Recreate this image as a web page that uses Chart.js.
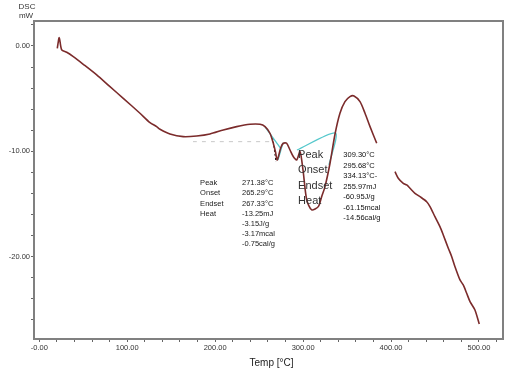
<!DOCTYPE html>
<html>
<head>
<meta charset="utf-8">
<script src="https://cdn.jsdelivr.net/npm/chart.js@4"></script>
<style>
  html, body { margin: 0; padding: 0; background: #fff; }
  #wrap { width: 522px; height: 375px; position: relative; }
</style>
</head>
<body>
<div id="wrap"><canvas id="dsc"></canvas></div>
<script>
// --- DSC curve (temperature in °C, heat flow in mW) ---
const tempMain = [20.5, 22.7, 25.5, 31.2, 38.7, 50.0, 65.3, 80.4, 95.5, 114.5, 125.9, 133.5, 137.3, 148.6,
  163.7, 179.0, 194.1, 209.2, 224.5, 239.6, 251.0, 256.7, 262.3, 266.1, 268.6, 270.6, 274.5, 277.5, 281.3,
  285.1, 288.8, 292.7, 296.5, 299.9, 304.1, 309.8, 317.3, 321.1, 324.9, 330.6, 336.3, 341.9, 347.6, 353.3,
  357.9, 364.7, 370.4, 376.1, 383.7];
const dscMain = [-0.22, 0.79, -0.38, -0.60, -1.02, -1.74, -2.75, -3.87, -4.97, -6.39, -7.28, -7.66, -7.91, -8.36,
  -8.61, -8.55, -8.36, -7.98, -7.66, -7.44, -7.44, -7.66, -8.29, -9.24, -10.07, -10.83, -9.69, -9.24, -9.24,
  -9.88, -10.50, -10.83, -10.04, -11.78, -14.62, -15.57, -15.26, -14.31, -13.36, -11.14, -8.36, -6.39, -5.29, -4.81,
  -4.75, -5.29, -6.39, -7.66, -9.24];

const tempTail = [404.5, 408.2, 413.9, 417.8, 421.5, 427.2, 432.9, 440.5, 444.3, 449.9, 455.6, 459.4, 465.1,
  469.0, 472.7, 478.4, 482.1, 486.0, 489.8, 495.4, 500.3];
const dscTail = [-11.94, -12.56, -13.04, -13.20, -13.51, -13.99, -14.31, -14.79, -15.26, -16.21, -17.16, -17.95,
  -19.21, -20.01, -20.96, -22.22, -22.70, -23.49, -24.28, -25.07, -26.40];

// integration baselines drawn by the instrument software
const base1Temp = [256.7, 274.9];
const base1Dsc = [-7.69, -9.78];
const base2Temp = [271.4, 277.1];
const base2Dsc = [-10.83, -9.21];
const base3Temp = [293.0, 336.8, 329.4];
const base3Dsc = [-9.88, -8.26, -11.30];
const peakMarkTemp = [265.6, 269.1];
const peakMarkDsc = [-8.74, -11.02];
const guideTemp = [174.8, 264.7];
const guideDsc = [-9.09, -9.09];

// axis ticks
const xMajor = [0, 100, 200, 300, 400, 500];
const yMajor = [0, -10, -20];

// annotation texts
const smallPeakLabels = ['Peak', 'Onset', 'Endset', 'Heat'];
const smallPeakValues = ['271.38°C', '265.29°C', '267.33°C', '-13.25mJ', '-3.15J/g', '-3.17mcal', '-0.75cal/g'];
const bigPeakLabels = ['Peak', 'Onset', 'Endset', 'Heat'];
const bigPeakValues = ['309.30°C', '295.68°C', '334.13°C-', '255.97mJ', '-60.95J/g', '-61.15mcal', '-14.56cal/g'];

const toPoints = (xs, ys) => xs.map((x, i) => ({ x: x, y: ys[i] }));

const BROWN = '#7b2b2b';
const CYAN = '#55c8cc';

function lineSet(xs, ys, color, width, dash) {
    return {
        data: toPoints(xs, ys),
        showLine: true,
        borderColor: color,
        borderWidth: width,
        borderDash: dash || [],
        pointRadius: 0,
        fill: false
    };
}

// draws frame, axis titles and the result tables
const decorations = {
    id: 'decorations',
    afterDraw(chart) {
        const ctx = chart.ctx;
        const a = chart.chartArea;
        const xs = chart.scales.x, ys = chart.scales.y;
        ctx.save();

        // frame
        ctx.strokeStyle = '#808080';
        ctx.lineWidth = 2;
        ctx.strokeRect(a.left, a.top, a.right - a.left, a.bottom - a.top);

        // axis titles
        ctx.fillStyle = '#333';
        ctx.textAlign = 'center';
        ctx.textBaseline = 'middle';
        ctx.font = '8px "Liberation Sans", Arial, sans-serif';
        ctx.fillText('DSC', a.left - 7, a.top - 14);
        ctx.fillText('mW', a.left - 8, a.top - 5);
        ctx.font = '10px "Liberation Sans", Arial, sans-serif';
        ctx.fillStyle = '#222';
        ctx.fillText('Temp [°C]', (a.left + a.right) / 2 + 3, a.bottom + 24);

        // small peak table
        ctx.textAlign = 'left';
        ctx.font = '7.5px "Liberation Sans", Arial, sans-serif';
        ctx.fillStyle = '#222';
        let lx = xs.getPixelForValue(182.9), vx = xs.getPixelForValue(230.5), ty = ys.getPixelForValue(-13.04);
        smallPeakLabels.forEach((t, i) => ctx.fillText(t, lx, ty + i * 10.1));
        smallPeakValues.forEach((t, i) => ctx.fillText(t, vx, ty + i * 10.1));

        // big peak table
        ctx.font = '11px "Liberation Sans", Arial, sans-serif';
        ctx.fillStyle = '#333';
        lx = xs.getPixelForValue(294.3);
        ty = ys.getPixelForValue(-10.35);
        bigPeakLabels.forEach((t, i) => ctx.fillText(t, lx, ty + i * 15.5));
        ctx.font = '7.5px "Liberation Sans", Arial, sans-serif';
        ctx.fillStyle = '#111';
        vx = xs.getPixelForValue(345.7);
        bigPeakValues.forEach((t, i) => ctx.fillText(t, vx, ty + i * 10.5));

        ctx.restore();
    }
};

const chart = new Chart(document.getElementById('dsc'), {
    type: 'scatter',
    data: {
        datasets: [
            lineSet(guideTemp, guideDsc, '#c8c8c8', 1, [4, 5]),
            lineSet(tempMain, dscMain, BROWN, 1.6),
            lineSet(tempTail, dscTail, BROWN, 1.6),
            lineSet(base1Temp, base1Dsc, CYAN, 1.3),
            lineSet(base2Temp, base2Dsc, CYAN, 1.3),
            lineSet(base3Temp, base3Dsc, CYAN, 1.3),
            lineSet(peakMarkTemp, peakMarkDsc, '#111', 1, [2, 2])
        ]
    },
    options: {
        responsive: true,
        maintainAspectRatio: false,
        animation: false,
        layout: { padding: { left: 0, top: 21, right: 19, bottom: 0 } },
        plugins: { legend: { display: false }, tooltip: { enabled: false } },
        elements: { line: { tension: 0.25 } },
        scales: {
            x: {
                type: 'linear',
                min: -6,
                max: 527.3,
                afterFit(s) { s.height = 36; },
                afterBuildTicks(s) { s.ticks = s.ticks.filter(t => t.value % 20 === 0); },
                grid: { drawOnChartArea: false, tickLength: 3, color: '#666' },
                border: { color: '#808080', width: 2 },
                ticks: {
                    stepSize: 20,
                    includeBounds: false,
                    padding: 1,
                    maxRotation: 0,
                    autoSkip: false,
                    color: '#333',
                    font: { size: 7.5, family: '"Liberation Sans", Arial, sans-serif' },
                    callback: v => xMajor.includes(v) ? (v === 0 ? '-0.00' : v.toFixed(2)) : ''
                }
            },
            y: {
                type: 'linear',
                min: -27.83,
                max: 2.37,
                afterFit(s) { s.width = 34; },
                afterBuildTicks(s) { s.ticks = s.ticks.filter(t => t.value % 2 === 0); },
                grid: { drawOnChartArea: false, tickLength: 3, color: '#666' },
                border: { color: '#808080', width: 2 },
                ticks: {
                    stepSize: 2,
                    includeBounds: false,
                    padding: 1,
                    autoSkip: false,
                    color: '#333',
                    font: { size: 7.5, family: '"Liberation Sans", Arial, sans-serif' },
                    callback: v => yMajor.includes(v) ? v.toFixed(2) : ''
                }
            }
        }
    },
    plugins: [decorations]
});
</script>
</body>
</html>
